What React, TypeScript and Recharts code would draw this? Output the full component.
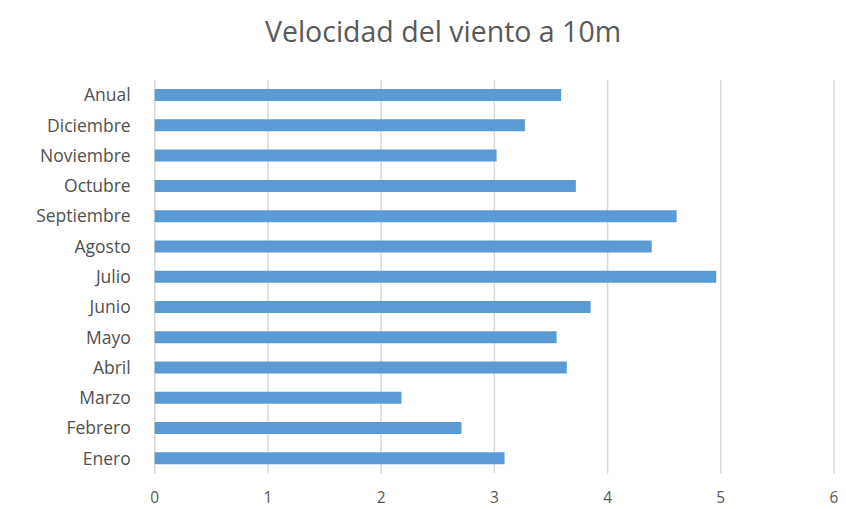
import { BarChart, Bar, XAxis, YAxis, CartesianGrid } from 'recharts'

const months = [
  'Anual', 'Diciembre', 'Noviembre', 'Octubre', 'Septiembre', 'Agosto', 'Julio',
  'Junio', 'Mayo', 'Abril', 'Marzo', 'Febrero', 'Enero',
]
const speeds = [3.59, 3.27, 3.02, 3.72, 4.61, 4.39, 4.96, 3.85, 3.55, 3.64, 2.18, 2.71, 3.09]
const xTicks = [0, 1, 2, 3, 4, 5, 6]

const data = months.map((m, i) => ({ name: m, value: speeds[i] }))

const font = "'Open Sans', 'Noto Sans', sans-serif"

export default function App() {
  return (
    <div style={{ position: 'absolute', left: 0, top: 0, width: 846, height: 509, background: '#fff' }}>
      <div
        style={{
          position: 'absolute',
          left: 40,
          top: 12,
          width: 806,
          textAlign: 'center',
          fontFamily: font,
          fontSize: 28.5,
          color: '#595959',
        }}
      >
        Velocidad del viento a 10m
      </div>
      <BarChart
        width={846}
        height={509}
        data={data}
        layout="vertical"
        margin={{ top: 80, right: 12, bottom: 0, left: 0 }}
        barCategoryGap="30%"
      >
        <CartesianGrid horizontal={false} stroke="#d9d9d9" strokeWidth={1.5} />
        <XAxis
          type="number"
          domain={[0, 6]}
          ticks={xTicks}
          axisLine={false}
          tickLine={false}
          height={35.5}
          tickMargin={12}
          tick={{ fill: '#595959', fontSize: 15.5, fontFamily: font }}
        />
        <YAxis
          type="category"
          dataKey="name"
          width={154.7}
          axisLine={false}
          tickLine={false}
          tickMargin={18}
          tick={{ fill: '#505050', fontSize: 17.5, fontFamily: font }}
        />
        <Bar dataKey="value" fill="#5b9bd5" isAnimationActive={false} />
      </BarChart>
    </div>
  )
}
